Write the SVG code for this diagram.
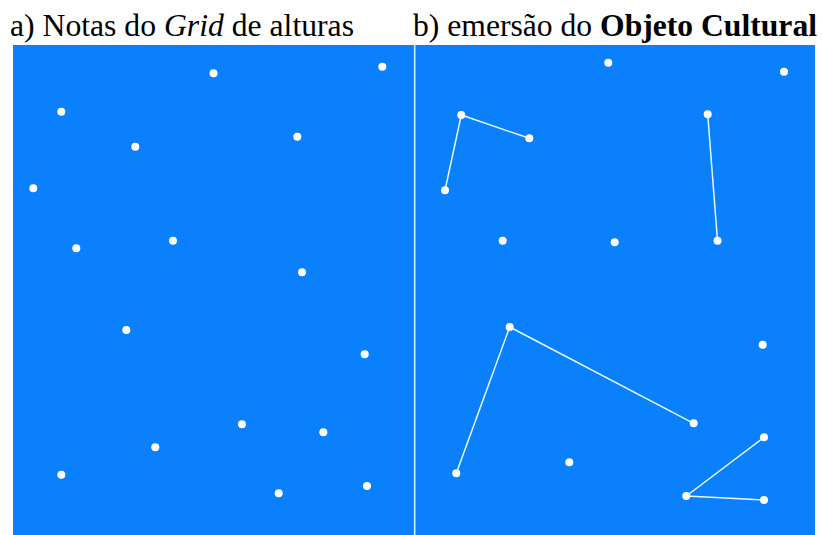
<svg xmlns="http://www.w3.org/2000/svg" width="823" height="535" viewBox="0 0 823 535">
<style>
.n{fill:#ffffff}
.c{stroke:#e6faff;stroke-width:1.5;fill:none;stroke-linecap:round;stroke-linejoin:round}
</style>
<rect x="0" y="0" width="823" height="535" fill="#ffffff"/>
<g id="titles" fill="#000000">
<text font-family="Liberation Serif" font-size="31.5" x="10" y="36" textLength="344" lengthAdjust="spacingAndGlyphs">a) Notas do <tspan font-style="italic">Grid</tspan> de alturas</text>
<text font-family="Liberation Serif" font-size="31.5" x="413" y="36" textLength="404" lengthAdjust="spacingAndGlyphs">b) emersão do <tspan font-weight="bold">Objeto Cultural</tspan></text>
</g>
<rect id="panel" x="13" y="45" width="802" height="490" fill="#0b80fd"/>
<line id="divider" x1="414.7" y1="45" x2="414.7" y2="535" stroke="#c8f0ff" stroke-width="1.6"/>
<g id="connectors">
<polyline class="c" points="445,190.3 461.3,115 529.3,138.3"/>
<line class="c" x1="707.7" y1="114.3" x2="717.5" y2="240.7"/>
<polyline class="c" points="456.3,473.3 509.7,327 693.7,423.3"/>
<polyline class="c" points="764,437.3 686.3,496 764,500"/>
</g>
<g id="grid-a">
<circle id="a1" class="n" cx="213.5" cy="73.3" r="4"/>
<circle id="a2" class="n" cx="382.3" cy="66.7" r="4"/>
<circle id="a3" class="n" cx="61.3" cy="111.7" r="4"/>
<circle id="a4" class="n" cx="135.3" cy="146.7" r="4"/>
<circle id="a5" class="n" cx="297.3" cy="136.7" r="4"/>
<circle id="a6" class="n" cx="33.3" cy="188.3" r="4"/>
<circle id="a7" class="n" cx="76.3" cy="248.3" r="4"/>
<circle id="a8" class="n" cx="173" cy="240.7" r="4"/>
<circle id="a9" class="n" cx="302" cy="272.3" r="4"/>
<circle id="a10" class="n" cx="126.3" cy="330" r="4"/>
<circle id="a11" class="n" cx="364.7" cy="354.3" r="4"/>
<circle id="a12" class="n" cx="242" cy="424.3" r="4"/>
<circle id="a13" class="n" cx="155.3" cy="447.3" r="4"/>
<circle id="a14" class="n" cx="323.3" cy="432.3" r="4"/>
<circle id="a15" class="n" cx="61.3" cy="474.7" r="4"/>
<circle id="a16" class="n" cx="278.7" cy="493.3" r="4"/>
<circle id="a17" class="n" cx="367" cy="486" r="4"/>
</g>
<g id="grid-b">
<circle id="b1" class="n" cx="608.3" cy="62.7" r="4"/>
<circle id="b2" class="n" cx="784" cy="71.7" r="4"/>
<circle id="b3" class="n" cx="461.3" cy="115" r="4"/>
<circle id="b4" class="n" cx="529.3" cy="138.3" r="4"/>
<circle id="b5" class="n" cx="445" cy="190.3" r="4"/>
<circle id="b6" class="n" cx="707.7" cy="114.3" r="4"/>
<circle id="b7" class="n" cx="717.5" cy="240.7" r="4"/>
<circle id="b8" class="n" cx="502.7" cy="240.7" r="4"/>
<circle id="b9" class="n" cx="614.7" cy="242.2" r="4"/>
<circle id="b10" class="n" cx="509.7" cy="327" r="4"/>
<circle id="b11" class="n" cx="762.7" cy="344.7" r="4"/>
<circle id="b12" class="n" cx="693.7" cy="423.3" r="4"/>
<circle id="b13" class="n" cx="764" cy="437.3" r="4"/>
<circle id="b14" class="n" cx="456.3" cy="473.3" r="4"/>
<circle id="b15" class="n" cx="569.3" cy="462.3" r="4"/>
<circle id="b16" class="n" cx="686.3" cy="496" r="4"/>
<circle id="b17" class="n" cx="764" cy="500" r="4"/>
</g>
</svg>
